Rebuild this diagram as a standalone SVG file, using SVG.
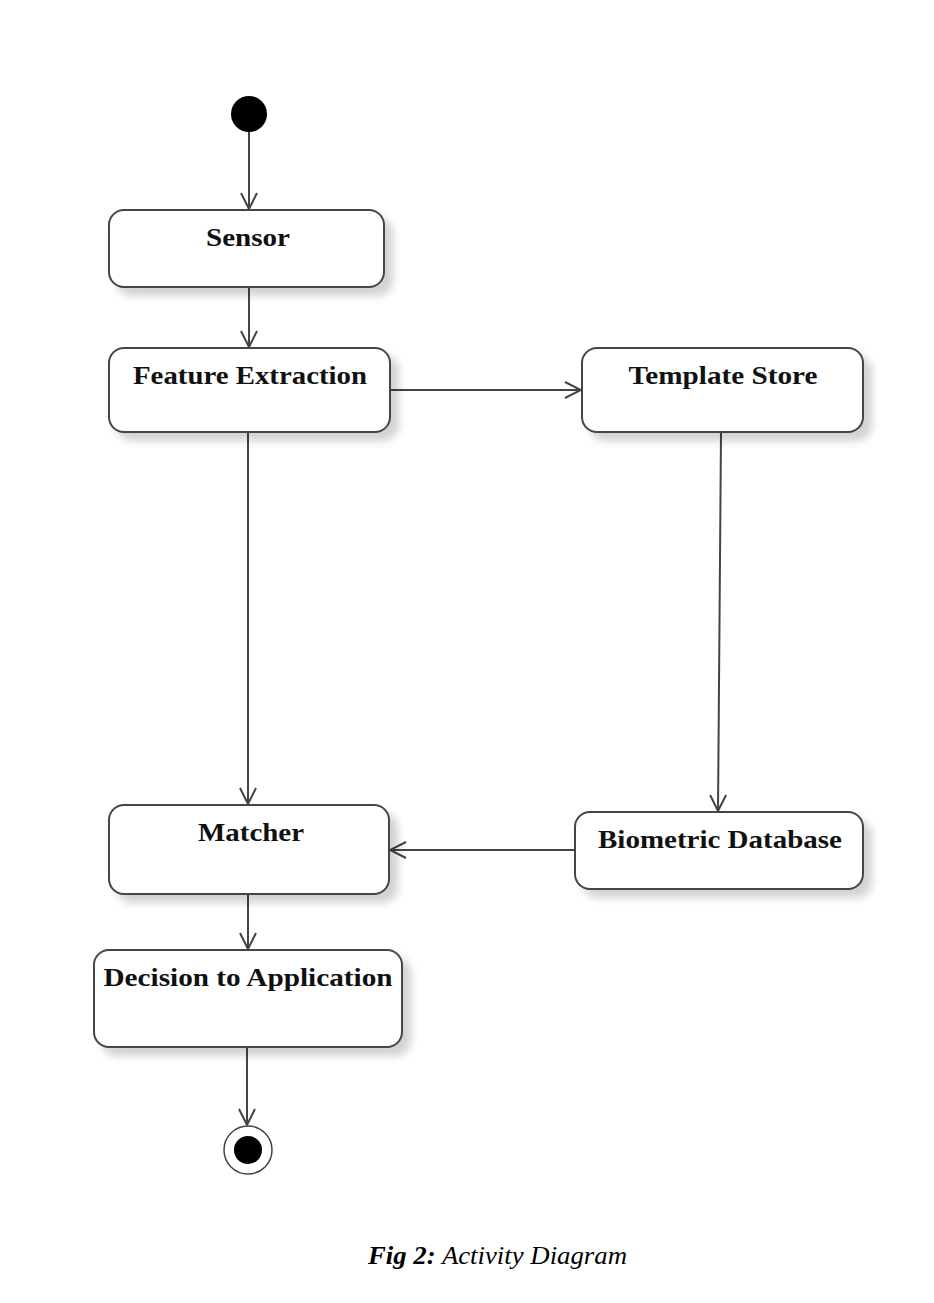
<svg xmlns="http://www.w3.org/2000/svg" width="934" height="1303" viewBox="0 0 934 1303">
<style>
.box{fill:#fff;stroke:#444;stroke-width:2}
.lbl{font-family:"Liberation Serif","Times New Roman",serif;font-weight:bold;font-size:25px;fill:#111;text-anchor:middle}
.edge{stroke:#444;stroke-width:2;fill:none}
.cap{font-family:"Liberation Serif","Times New Roman",serif;font-style:italic;font-size:26px;fill:#000}
</style>
<defs>
<filter id="sh" x="-10%" y="-10%" width="130%" height="140%">
<feGaussianBlur in="SourceAlpha" stdDeviation="4"/>
<feOffset dx="8" dy="8" result="b"/>
<feComponentTransfer><feFuncA type="linear" slope="0.18"/></feComponentTransfer>
<feMerge><feMergeNode/><feMergeNode in="SourceGraphic"/></feMerge>
</filter>
<marker id="arr" viewBox="0 0 20 20" refX="18" refY="10" markerWidth="20" markerHeight="20" markerUnits="userSpaceOnUse" orient="auto">
<path d="M2,2 L18,10 L2,18" fill="none" stroke="#444" stroke-width="2"/>
</marker>
</defs>
<rect width="934" height="1303" fill="#fff"/>
<g id="connectors">
<line class="edge" x1="249" y1="132" x2="249" y2="209" marker-end="url(#arr)"/>
<line class="edge" x1="249" y1="288" x2="249" y2="347" marker-end="url(#arr)"/>
<line class="edge" x1="391" y1="390" x2="581" y2="390" marker-end="url(#arr)"/>
<line class="edge" x1="248" y1="433" x2="248" y2="804" marker-end="url(#arr)"/>
<line class="edge" x1="721" y1="433" x2="718" y2="811" marker-end="url(#arr)"/>
<line class="edge" x1="574" y1="850" x2="390" y2="850" marker-end="url(#arr)"/>
<line class="edge" x1="248" y1="895" x2="248" y2="949" marker-end="url(#arr)"/>
<line class="edge" x1="247" y1="1048" x2="247" y2="1125" marker-end="url(#arr)"/>
</g>
<g id="start"><circle cx="249" cy="114" r="18" fill="#000"/></g>
<g id="sensor"><rect class="box" x="109" y="210" width="275" height="77" rx="15" filter="url(#sh)"/><text class="lbl" x="248" y="246" textLength="84" lengthAdjust="spacingAndGlyphs">Sensor</text></g>
<g id="feature-extraction"><rect class="box" x="109" y="348" width="281" height="84" rx="15" filter="url(#sh)"/><text class="lbl" x="250" y="384" textLength="234" lengthAdjust="spacingAndGlyphs">Feature Extraction</text></g>
<g id="template-store"><rect class="box" x="582" y="348" width="281" height="84" rx="15" filter="url(#sh)"/><text class="lbl" x="723" y="384" textLength="189" lengthAdjust="spacingAndGlyphs">Template Store</text></g>
<g id="matcher"><rect class="box" x="109" y="805" width="280" height="89" rx="15" filter="url(#sh)"/><text class="lbl" x="251" y="841" textLength="106" lengthAdjust="spacingAndGlyphs">Matcher</text></g>
<g id="biometric-database"><rect class="box" x="575" y="812" width="288" height="77" rx="15" filter="url(#sh)"/><text class="lbl" x="720" y="848" textLength="244" lengthAdjust="spacingAndGlyphs">Biometric Database</text></g>
<g id="decision"><rect class="box" x="94" y="950" width="308" height="97" rx="15" filter="url(#sh)"/><text class="lbl" x="248" y="986" textLength="289" lengthAdjust="spacingAndGlyphs">Decision to Application</text></g>
<g id="end"><circle cx="248" cy="1150" r="24" fill="#fff" stroke="#444" stroke-width="1.5"/><circle cx="248" cy="1150" r="14" fill="#000"/></g>
<text class="cap" x="368" y="1264" textLength="259" lengthAdjust="spacingAndGlyphs"><tspan font-weight="bold">Fig 2:</tspan> Activity Diagram</text>
</svg>
